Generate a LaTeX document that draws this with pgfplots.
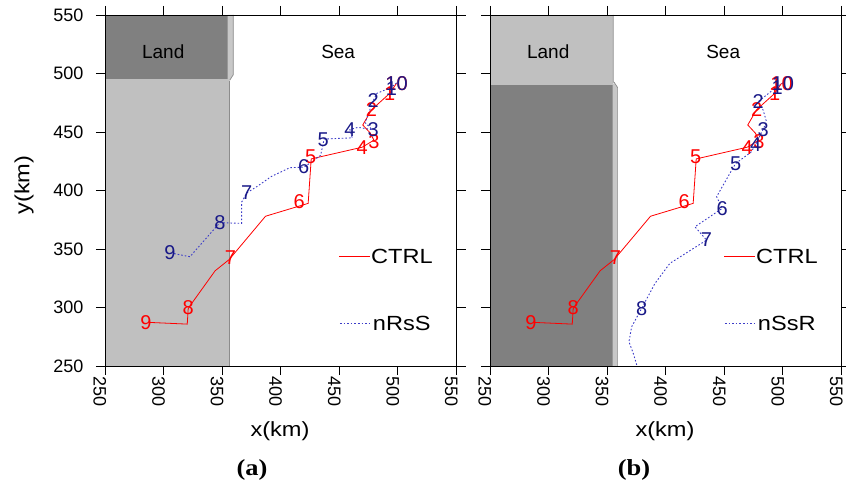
\documentclass[border=0pt]{standalone}
\usepackage{pgfplots}
\pgfplotsset{compat=1.18}
\usepackage{fontspec}
\setmainfont{Liberation Sans}
\newfontfamily\widesans[FakeStretch=1.15]{Liberation Sans}
\newfontfamily\timesbf[FakeStretch=1.15]{Liberation Serif}
\definecolor{landdark}{RGB}{128,128,128}
\definecolor{landlight}{RGB}{192,192,192}
\definecolor{landstrip}{RGB}{200,200,200}
\definecolor{landedge}{RGB}{140,140,140}
\definecolor{trackred}{RGB}{255,0,0}
\definecolor{labnavy}{RGB}{25,25,135}
\definecolor{trackblue}{RGB}{60,60,200}

\pgfplotstableread{
x y
498.8 491.6
493 483
477.5 469
470 456
476.5 449
479.5 443
469.5 437
426 427
423.4 389
387 378
356 341
344 331.4
324 303.5
321 299
320.2 285.8
287 287.3
}\ctrlline
\pgfplotstableread{
x y l
498.8 491.6 10
493 483 1
477.5 469 2
479.5 442 3
469.5 437 4
425.5 429 5
415.8 390.4 6
357 342.8 7
321 299.5 8
285 287.3 9
}\ctrllab
\pgfplotstableread{
x y
499 492
494 488
482 483
479 477
472 458
478 452
466 454
459 452
461 445
437 444
434 430
420 420
407.8 419.5
392 412
379.4 403.2
371 398
366.6 390
366.6 371.9
348 372.5
322.5 343.4
311.2 345.6
305.4 346.8
}\nrssline
\pgfplotstableread{
x y l
498.8 491.6 10
494.5 487.3 1
478.9 477.3 2
478.9 451.7 3
459 451.7 4
436.2 443 5
419.5 420 6
370.9 398 7
348.1 372.5 8
305.4 346.8 9
}\nrsslab
\pgfplotstableread{
x y
500 492
494 488
479 476
483.1 468.8
486 458.8
483 452
477 440
473 433
459.6 423
454.7 414.6
443.4 394.7
448.2 384.7
424.9 369
434.8 357.6
403.5 337.7
390.8 320.6
379.4 299.2
370.9 283.5
368.6 270.7
372.3 260.7
375.5 250
}\nssrline
\pgfplotstableread{
x y l
500 491.6 10
495 488 1
478.9 476 2
483.1 451.7 3
476.7 439 4
459.6 423 5
448.2 384.7 6
434.8 357.6 7
379.4 299.2 8
}\nssrlab

\pgfplotsset{
  panel/.style={
    scale only axis, width=351.5pt, height=351pt,
    xmin=250, xmax=550, ymin=250, ymax=550,
    xtick={250,300,...,550}, ytick={250,300,...,550},
    tick align=outside, major tick length=9pt,
    axis line style={line width=0.9pt},
    every tick/.style={black, line width=0.9pt},
    tick label style={font=\fontsize{18}{20}\selectfont},
    /pgf/number format/assume math mode=true,
    xticklabel style={rotate=-90, anchor=north west, inner sep=0pt, xshift=1pt, yshift=1.5pt},
    yticklabel style={xshift=-9pt},
    axis on top, clip=true,
  },
  labs/.style={only marks, mark=none, nodes near coords, point meta=explicit symbolic,
    every node near coord/.append style={anchor=center, inner sep=0pt, text=#1,
      font=\fontsize{20}{22}\selectfont}},
}

\begin{document}
\begin{tikzpicture}[x=1pt,y=1pt]
\useasboundingbox (0,0) rectangle (846,485);

% ---------------- panel (a)
\begin{axis}[panel, at={(105pt,119pt)}, anchor=south west]
\fill[landlight] (axis cs:250,250) rectangle (axis cs:356,495);
\draw[landedge, line width=0.7pt] (axis cs:356,250) -- (axis cs:356,494);
\fill[landdark] (axis cs:250,495) rectangle (axis cs:354.7,550);
\fill[landstrip] (axis cs:354.7,550) -- (axis cs:359.5,550) -- (axis cs:359.5,499) -- (axis cs:356.3,494) -- (axis cs:354.7,495) -- cycle;
\draw[landedge, line width=0.7pt] (axis cs:359.5,550) -- (axis cs:359.5,499) -- (axis cs:356.3,494);
\node[font=\fontsize{19}{21}\selectfont] at (axis cs:299.7,518.6) {Land};
\node[font=\fontsize{19}{21}\selectfont] at (axis cs:449,518.6) {Sea};

\addplot[trackred, line width=0.8pt] table {\ctrlline};
\addplot[trackblue, line width=0.9pt, dash pattern=on 1.6pt off 2pt] table {\nrssline};
\addplot[labs=trackred] table[meta=l] {\ctrllab};
\addplot[labs=labnavy] table[meta=l] {\nrsslab};

\draw[trackred, line width=0.8pt] (axis cs:450,344) -- (axis cs:476.5,344);
\node[anchor=west, inner sep=0pt, font=\widesans\fontsize{20.5}{22}\selectfont] at (axis cs:477,344) {CTRL};
\draw[trackblue, line width=0.9pt, dash pattern=on 1.6pt off 2pt] (axis cs:450.5,286.4) -- (axis cs:478,286.4);
\node[anchor=west, inner sep=0pt, font=\widesans\fontsize{20.5}{22}\selectfont] at (axis cs:478.5,286.4) {nRsS};
\end{axis}

% ---------------- panel (b)
\begin{axis}[panel, at={(490pt,119pt)}, anchor=south west, yticklabels={}]
\fill[landlight] (axis cs:250,490) rectangle (axis cs:355.2,550);
\fill[landdark] (axis cs:250,250) rectangle (axis cs:354.6,490);
\fill[landstrip] (axis cs:354.6,250) -- (axis cs:358.9,250) -- (axis cs:358.9,488) -- (axis cs:356,492.5) -- (axis cs:354.6,490) -- cycle;
\draw[landedge, line width=0.7pt] (axis cs:358.9,250) -- (axis cs:358.9,488) -- (axis cs:356,492.5) -- (axis cs:355.2,492.5) -- (axis cs:355.2,550);
\node[font=\fontsize{19}{21}\selectfont] at (axis cs:299.7,518.6) {Land};
\node[font=\fontsize{19}{21}\selectfont] at (axis cs:449,518.6) {Sea};

\addplot[trackred, line width=0.8pt] table {\ctrlline};
\addplot[trackblue, line width=0.9pt, dash pattern=on 1.6pt off 2pt] table {\nssrline};
\addplot[labs=trackred] table[meta=l] {\ctrllab};
\addplot[labs=labnavy] table[meta=l] {\nssrlab};

\draw[trackred, line width=0.8pt] (axis cs:450,344) -- (axis cs:476.5,344);
\node[anchor=west, inner sep=0pt, font=\widesans\fontsize{20.5}{22}\selectfont] at (axis cs:477,344) {CTRL};
\draw[trackblue, line width=0.9pt, dash pattern=on 1.6pt off 2pt] (axis cs:450.5,286.4) -- (axis cs:478,286.4);
\node[anchor=west, inner sep=0pt, font=\widesans\fontsize{20.5}{22}\selectfont] at (axis cs:478.5,286.4) {nSsR};
\end{axis}

% ---------------- labels
\node[rotate=90, font=\widesans\fontsize{20.5}{22}\selectfont] at (24,300) {y(km)};
\node[font=\widesans\fontsize{20.5}{22}\selectfont] at (280,54) {x(km)};
\node[font=\widesans\fontsize{20.5}{22}\selectfont] at (665,54) {x(km)};
\node[font=\timesbf\bfseries\fontsize{23}{25}\selectfont] at (252,15) {(a)};
\node[font=\timesbf\bfseries\fontsize{23}{25}\selectfont] at (634,15) {(b)};
\end{tikzpicture}
\end{document}
